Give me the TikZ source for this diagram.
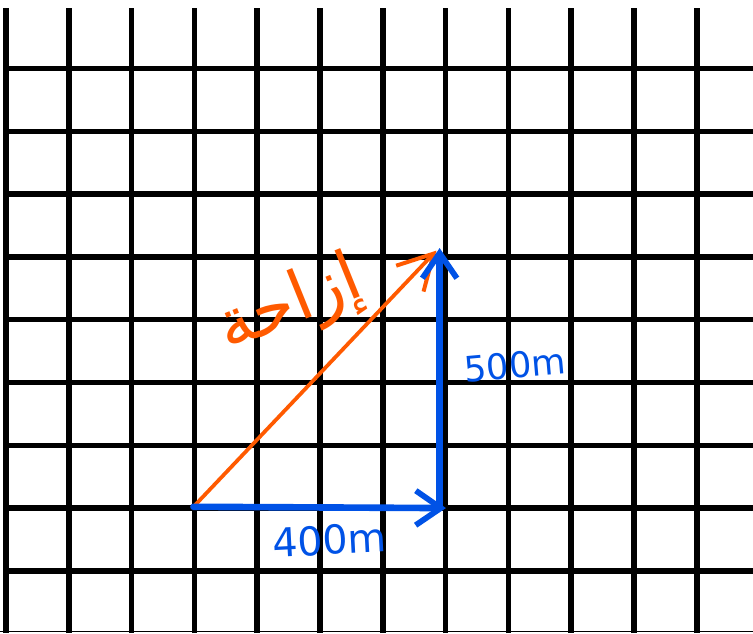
\documentclass[tikz,border=0pt]{standalone}
\usepackage{fontspec}
\newfontfamily\handfont{DejaVu Sans}
\newfontfamily\arabicfont[Script=Arabic]{DejaVu Sans}
\TeXXeTstate=1
\usetikzlibrary{arrows.meta}
\definecolor{penblue}{RGB}{0,82,230}
\definecolor{penorange}{RGB}{255,90,0}

\begin{document}
\begin{tikzpicture}[
  gridline/.style={line width=2.5pt, black},
  bluevec/.style={line width=3pt, penblue, line cap=round,
    -{Straight Barb[length=4mm, width=5.5mm, line width=2.6pt]}},
  orangevec/.style={line width=1.7pt, penorange, line cap=round,
    -{Straight Barb[length=5.5mm, width=6mm, line width=1.8pt]}},
  ]

  % Parameters
  \def\Lx{11.99}
  \def\Ly{10.08}
  \def\Xo{0.0955}
  \def\Yo{8.989}
  \def\Ytop{9.952}

  \useasboundingbox (0, 0) rectangle (\Lx, \Ly);

  % Grid
  \foreach \i in {0, ..., 11} {
    \draw[gridline] (\Xo + \i, 0) -- (\Xo + \i, \Ytop);
  }
  \foreach \j in {0, ..., 8} {
    \draw[gridline] (0.06, \Yo - \j) -- (\Lx, \Yo - \j);
  }
  \draw[line width=0.5pt] (0, 0.02) -- (\Lx, 0.02);

  % Vector end points
  \coordinate (start) at (3.08, 2.01);
  \coordinate (corner) at (7.10, 1.99);
  \coordinate (top) at (7.00, 6.13);
  \coordinate (bend) at (7.00, 1.99);

  % Resultant (orange)
  \draw[orangevec] (start) -- (6.95, 6.09);
  \node[penorange, rotate=22, font=\fontsize{31}{33}\selectfont\arabicfont]
    (lblDisp) at (4.62, 5.20) {\beginR إزاحة\endR};

  % East and north legs (blue)
  \draw[bluevec] (start) -- (corner);
  \draw[bluevec] (bend) -- (top);
  \node[penblue, rotate=3, font=\fontsize{18}{20}\selectfont\handfont]
    (lblEast) at (5.25, 1.48) {400m};
  \node[penblue, rotate=5, font=\fontsize{16}{18}\selectfont\handfont]
    (lblNorth) at (8.2, 4.27) {500m};

\end{tikzpicture}
\end{document}
